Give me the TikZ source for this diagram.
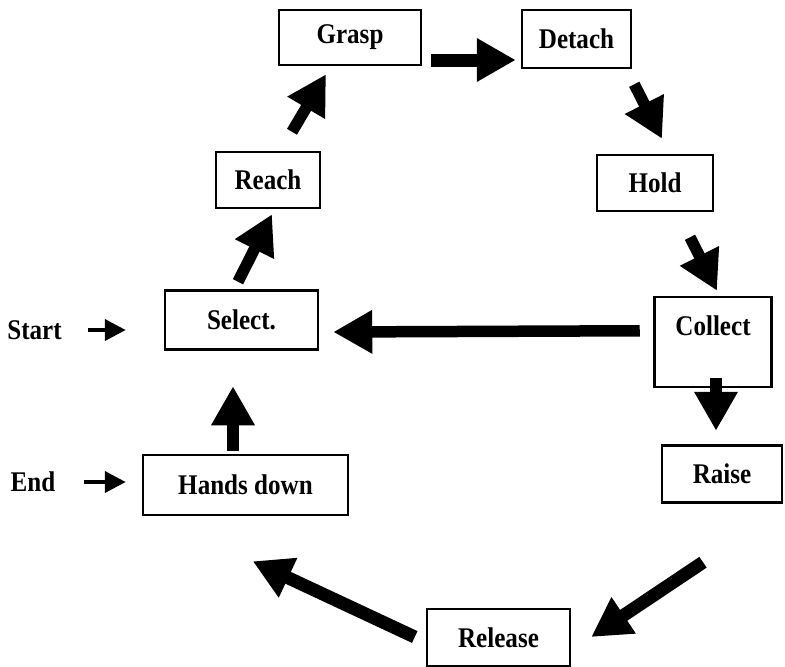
\documentclass[tikz,border=0pt]{standalone}
\usepackage{fontspec}
\setmainfont{Liberation Serif}
\usetikzlibrary{arrows.meta,calc}
\newcommand\lbl[1]{\scalebox{0.88}[1]{#1}}
\tikzset{
  box/.style={draw, line width=2.5pt, inner sep=0pt, font=\bfseries\fontsize{28.5}{32}\selectfont},
  plain/.style={inner sep=0pt, font=\bfseries\fontsize{28.5}{32}\selectfont},
  flow/.style={line width=11.5pt, -{Triangle[length=39pt,width=41pt]}},
  thin/.style={line width=4pt, -{Triangle[length=21pt,width=21pt]}}
}
\begin{document}
\begin{tikzpicture}[x=1pt,y=-1pt]
\useasboundingbox (0,0) rectangle (785,667);
\fill[white] (0,0) rectangle (785,667);
\node[box,minimum width=142pt,minimum height=55pt] (grasp) at (350,37.5) {\lbl{Grasp}};
\node[box,minimum width=109pt,minimum height=58pt] (detach) at (576.5,39) {\lbl{Detach}};
\node[box,minimum width=104pt,minimum height=56pt] (reach) at (268,180) {\lbl{Reach}};
\node[box,minimum width=116pt,minimum height=56pt] (hold) at (655,183) {\lbl{Hold}};
\node[box,minimum width=153pt,minimum height=59pt] (select) at (241.5,320) {\lbl{Select.}};
\node[box,minimum width=117pt,text height=38pt,text depth=52pt,anchor=base] (collect) at (713,335) {\lbl{Collect}};
\node[box,minimum width=120pt,minimum height=57pt] (raise) at (722,474) {\lbl{Raise}};
\node[box,minimum width=205pt,minimum height=60pt] (hands) at (245.5,485) {\lbl{Hands down}};
\node[box,minimum width=143pt,minimum height=57pt] (release) at (498.5,637.5) {\lbl{Release}};
\node[plain] (startlbl) at (34.5,330) {\lbl{Start}};
\node[plain] (endlbl) at (33,482) {\lbl{End}};

\draw[thin] ($(startlbl.east)+(26,0)$) -- ($(select.west)+(-38,10)$);
\draw[thin] ($(endlbl.east)+(28,0)$) -- ($(hands.west)+(-16,-3)$);
\draw[flow,line width=13pt] ($(grasp.east)+(9,22.5)$) -- ($(detach.west)+(-5,21)$);
\draw[flow] ($(reach.north)+(24,-19)$) -- ($(grasp.south)+(-24,8)$);
\draw[flow] ($(select.north)+(-3.5,-7.5)$) -- ($(reach.south)+(4,5)$);
\draw[flow] ($(hands.north)+(-12.5,-3)$) -- ($(select.south)+(-8.5,35.5)$);
\draw[flow] ($(detach.south east)+(2,15)$) -- ($(hold.north)+(7,-15)$);
\draw[flow] ($(hold.south)+(35,25)$) -- ($(collect.north)+(4,-5)$);
\draw[flow] ($(collect.north west)+(-13.5,35)$) -- ($(select.east)+(14,12)$);
\draw[flow] ($(collect.south)+(3,-10)$) -- ($(raise.north)+(-6,-13.5)$);
\draw[flow,line width=13pt] ($(raise.south)+(-19,58.5)$) -- ($(release.east)+(20,-0.5)$);
\draw[flow,line width=13pt] ($(release.west)+(-11,-0.5)$) -- ($(hands.south west)+(111,45)$);
\end{tikzpicture}
\end{document}
